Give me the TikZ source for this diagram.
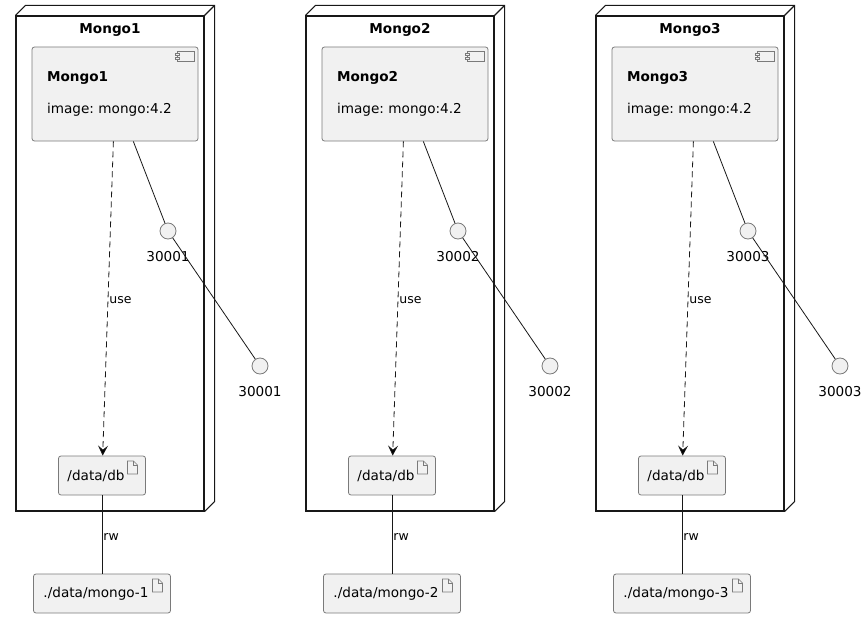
\documentclass[tikz,border=0pt]{standalone}
\usepackage{fontspec}
\setmainfont{DejaVu Sans}
\usepackage{tikz}
\usetikzlibrary{positioning,arrows.meta}
\frenchspacing

\definecolor{boxfill}{HTML}{F1F1F1}
\definecolor{boxline}{HTML}{7A7A7A}
\definecolor{linkline}{HTML}{181818}

\tikzset{
	hostnode/.style={draw=linkline,line width=1.1pt,minimum width=188pt,minimum height=495pt,inner sep=0pt},
	hostback/.style={draw=linkline,line width=1.1pt},
	hosttitle/.style={font=\fontsize{13.6}{16}\selectfont\bfseries,inner sep=2pt},
	component/.style={draw=boxline,fill=boxfill,line width=0.8pt,rounded corners=2.5pt,
		minimum width=166pt,minimum height=94pt,text width=136pt,inner xsep=15pt,align=left,
		font=\fontsize{13.6}{16}\selectfont,
		path picture={
			\draw[boxline,sharp corners,line width=0.7pt] ([shift={(-21,4)}]path picture bounding box.north east) rectangle ([shift={(-4,14)}]path picture bounding box.north east);
			\draw[boxline,fill=boxfill,sharp corners,line width=0.7pt] ([shift={(-23,6)}]path picture bounding box.north east) rectangle ([shift={(-19,8)}]path picture bounding box.north east);
			\draw[boxline,fill=boxfill,sharp corners,line width=0.7pt] ([shift={(-23,10)}]path picture bounding box.north east) rectangle ([shift={(-19,12)}]path picture bounding box.north east);
		}},
	artifact/.style={draw=boxline,fill=boxfill,line width=0.8pt,rounded corners=2.5pt,
		minimum height=39pt,font=\fontsize{13.6}{16}\selectfont,
		execute at end node=\hspace*{12pt},
		path picture={
			\draw[boxline,sharp corners,line width=0.7pt] ([shift={(-18,5)}]path picture bounding box.north east) -- ++(6,0) -- ++(4,4) -- ++(0,9) -- ++(-10,0) -- cycle;
			\draw[boxline,sharp corners,line width=0.7pt] ([shift={(-12,5)}]path picture bounding box.north east) -- ++(0,4) -- ++(4,0);
		}},
	port/.style={circle,draw=boxline,fill=boxfill,line width=0.8pt,minimum size=16pt,inner sep=0pt},
	portlabel/.style={font=\fontsize{13.6}{16}\selectfont,inner sep=1pt,label distance=11pt},
	link/.style={draw=linkline,line width=0.8pt},
	uses/.style={link,dash pattern=on 6pt off 4pt,-{Stealth[length=10pt,width=10pt,inset=4pt]}},
	linklabel/.style={font=\fontsize{12.5}{14}\selectfont,inner sep=1pt,yshift=-2pt}
}

\begin{document}
\begin{tikzpicture}[x=1pt,y=-1pt]
	\useasboundingbox (0,0) rectangle (868,618);
	
	% Mongo1
	\node[hostnode] (n1) at (110,263.5) {};
	\draw[hostback] (n1.north west) -- ++(10,-10) -- ([shift={(10,-10)}]n1.north east) -- ([shift={(10,-10)}]n1.south east) -- (n1.south east);
	\draw[hostback] (n1.north east) -- ++(10,-10);
	\node[hosttitle,below=6pt of n1.north] (t1) {Mongo1};
	\node[component] (c1) at (115,94) {\textbf{Mongo1}\\[16pt]image: mongo:4.2};
	\node[port,label={[portlabel]below:30001}] (i1) at (168,231) {};
	\node[port,label={[portlabel]below:30001}] (e1) at (260,366) {};
	\node[artifact,minimum width=87pt] (db1) at (102,475.5) {/data/db};
	\node[artifact,minimum width=137pt] (vol1) at (102,593.5) {./data/mongo-1};
	
	% Mongo2
	\node[hostnode] (n2) at (400,263.5) {};
	\draw[hostback] (n2.north west) -- ++(10,-10) -- ([shift={(10,-10)}]n2.north east) -- ([shift={(10,-10)}]n2.south east) -- (n2.south east);
	\draw[hostback] (n2.north east) -- ++(10,-10);
	\node[hosttitle,below=6pt of n2.north] (t2) {Mongo2};
	\node[component] (c2) at (405,94) {\textbf{Mongo2}\\[16pt]image: mongo:4.2};
	\node[port,label={[portlabel]below:30002}] (i2) at (458,231) {};
	\node[port,label={[portlabel]below:30002}] (e2) at (550,366) {};
	\node[artifact,minimum width=87pt] (db2) at (392,475.5) {/data/db};
	\node[artifact,minimum width=137pt] (vol2) at (392,593.5) {./data/mongo-2};
	
	% Mongo3
	\node[hostnode] (n3) at (690,263.5) {};
	\draw[hostback] (n3.north west) -- ++(10,-10) -- ([shift={(10,-10)}]n3.north east) -- ([shift={(10,-10)}]n3.south east) -- (n3.south east);
	\draw[hostback] (n3.north east) -- ++(10,-10);
	\node[hosttitle,below=6pt of n3.north] (t3) {Mongo3};
	\node[component] (c3) at (695,94) {\textbf{Mongo3}\\[16pt]image: mongo:4.2};
	\node[port,label={[portlabel]below:30003}] (i3) at (748,231) {};
	\node[port,label={[portlabel]below:30003}] (e3) at (840,366) {};
	\node[artifact,minimum width=87pt] (db3) at (682,475.5) {/data/db};
	\node[artifact,minimum width=137pt] (vol3) at (682,593.5) {./data/mongo-3};
	
	
	\path [link] (c1) edge (i1);
	\path [link] (i1) edge (e1);
	\path [uses] (c1) edge node[linklabel,right] {use} (db1);
	\path [link] (db1) edge node[linklabel,right] {rw} (vol1);
	
	\path [link] (c2) edge (i2);
	\path [link] (i2) edge (e2);
	\path [uses] (c2) edge node[linklabel,right] {use} (db2);
	\path [link] (db2) edge node[linklabel,right] {rw} (vol2);
	
	\path [link] (c3) edge (i3);
	\path [link] (i3) edge (e3);
	\path [uses] (c3) edge node[linklabel,right] {use} (db3);
	\path [link] (db3) edge node[linklabel,right] {rw} (vol3);
	
\end{tikzpicture}
\end{document}
